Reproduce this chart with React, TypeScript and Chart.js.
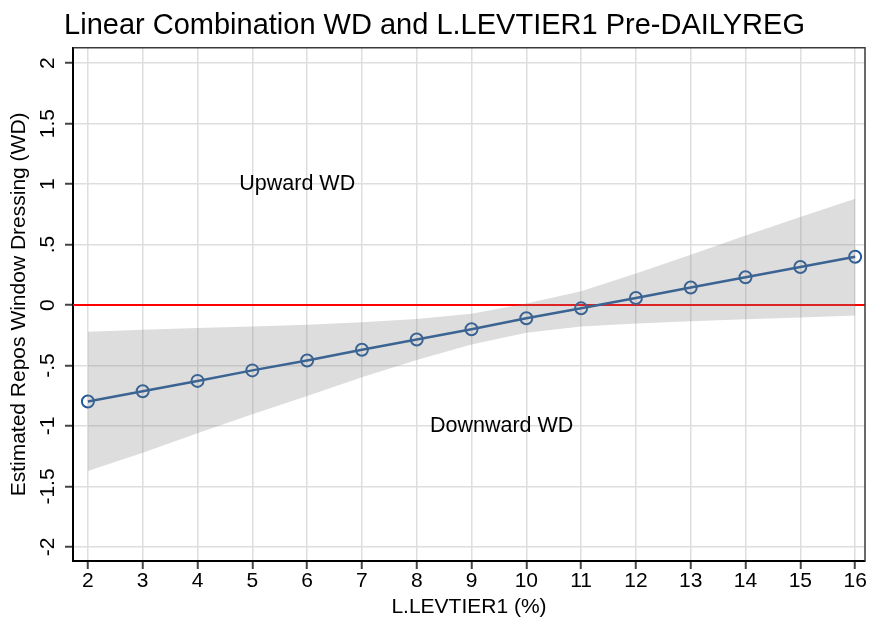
import React, { useEffect, useRef } from "react";
import { Chart, registerables } from "chart.js";

Chart.register(...registerables);

// ---- data ----
const levTier1 = [2, 3, 4, 5, 6, 7, 8, 9, 10, 11, 12, 13, 14, 15, 16];
const estimate = [-0.797, -0.712, -0.627, -0.54, -0.458, -0.37, -0.285, -0.2, -0.109, -0.027, 0.058, 0.145, 0.23, 0.315, 0.4];
const ciUpper = [-0.22, -0.205, -0.19, -0.177, -0.163, -0.142, -0.115, -0.072, 0.012, 0.115, 0.262, 0.415, 0.575, 0.728, 0.88];
const ciLower = [-1.372, -1.222, -1.06, -0.902, -0.752, -0.596, -0.455, -0.327, -0.229, -0.178, -0.152, -0.133, -0.118, -0.103, -0.086];

const xTickValues = [2, 3, 4, 5, 6, 7, 8, 9, 10, 11, 12, 13, 14, 15, 16];
const yTickValues = [-2, -1.5, -1, -0.5, 0, 0.5, 1, 1.5, 2];
const yTickLabels = ["-2", "-1.5", "-1", "-.5", "0", ".5", "1", "1.5", "2"];

const xAxisMin = 1.728;
const xAxisMax = 16.18;
const yAxisMin = -2.116;
const yAxisMax = 2.127;

const referenceLineY = 0;
const annotationLabels = ["Upward WD", "Downward WD"];
const annotationX = [5.82, 9.55];
const annotationY = [1, -1];

const chartTitle = "Linear Combination WD and L.LEVTIER1 Pre-DAILYREG";
const xTitle = "L.LEVTIER1 (%)";
const yTitle = "Estimated Repos Window Dressing (WD)";

const FONT = "'Liberation Sans', Arial, Helvetica, sans-serif";
const BLUE = "#22599a";

const decorPlugin = {
  id: "decor",
  beforeDatasetsDraw(chart: any) {
    const { ctx, chartArea: a, scales } = chart;
    const py = scales.y.getPixelForValue(referenceLineY);
    ctx.save();
    ctx.strokeStyle = "#ff0000";
    ctx.lineWidth = 2;
    ctx.beginPath();
    ctx.moveTo(a.left, py);
    ctx.lineTo(a.right, py);
    ctx.stroke();
    ctx.restore();
  },
  afterDatasetsDraw(chart: any) {
    const { ctx, chartArea: a, scales } = chart;
    ctx.save();
    ctx.strokeStyle = "#3a3a3a";
    ctx.lineWidth = 1.5;
    ctx.beginPath();
    ctx.moveTo(a.left, a.top);
    ctx.lineTo(a.right, a.top);
    ctx.lineTo(a.right, a.bottom);
    ctx.stroke();
    ctx.fillStyle = "#000";
    ctx.font = `21.5px ${FONT}`;
    ctx.textAlign = "center";
    ctx.textBaseline = "middle";
    annotationLabels.forEach((t, i) => {
      ctx.fillText(t, scales.x.getPixelForValue(annotationX[i]), scales.y.getPixelForValue(annotationY[i]));
    });
    ctx.restore();
  },
};

export default function App() {
  const ref = useRef<HTMLCanvasElement | null>(null);
  useEffect(() => {
    if (!ref.current) return;
    const toXY = (ys: number[]) => levTier1.map((x, i) => ({ x, y: ys[i] }));
    const chart = new Chart(ref.current, {
      type: "line",
      data: {
        datasets: [
          {
            data: toXY(ciUpper),
            borderWidth: 0,
            pointRadius: 0,
            backgroundColor: "rgba(128,128,128,0.27)",
            fill: "+1",
            tension: 0,
          },
          {
            data: toXY(ciLower),
            borderWidth: 0,
            pointRadius: 0,
            fill: false,
            tension: 0,
          },
          {
            data: toXY(estimate),
            borderColor: BLUE,
            borderWidth: 2.5,
            pointRadius: 6,
            pointBorderWidth: 2,
            pointBorderColor: BLUE,
            pointBackgroundColor: "rgba(0,0,0,0)",
            fill: false,
            tension: 0,
          },
        ],
      },
      options: {
        animation: false,
        responsive: false,
        devicePixelRatio: 1,
        layout: { padding: { left: 0, right: 4, top: 0, bottom: 0 } },
        plugins: {
          legend: { display: false },
          tooltip: { enabled: false },
          title: {
            display: true,
            text: chartTitle,
            color: "#000",
            font: { family: FONT, size: 29, weight: "normal" },
            padding: { top: 9, bottom: 4 },
          },
        },
        scales: {
          x: {
            type: "linear",
            min: xAxisMin,
            max: xAxisMax,
            afterBuildTicks: (axis: any) => {
              axis.ticks = xTickValues.map((v) => ({ value: v }));
            },
            afterFit: (axis: any) => {
              axis.height = 61;
            },
            ticks: {
              color: "#000",
              font: { family: FONT, size: 21 },
              padding: 0,
              maxRotation: 0,
              minRotation: 0,
              callback: (v: any) => String(v),
            },
            grid: {
              color: "#dedede",
              lineWidth: 1.5,
              tickColor: "#444",
              tickLength: 8,
              tickWidth: 2,
            },
            border: { color: "#000", width: 2 },
            title: {
              display: true,
              text: xTitle,
              color: "#000",
              font: { family: FONT, size: 21 },
              padding: { top: 0, bottom: 2 },
            },
          },
          y: {
            type: "linear",
            min: yAxisMin,
            max: yAxisMax,
            afterBuildTicks: (axis: any) => {
              axis.ticks = yTickValues.map((v) => ({ value: v }));
            },
            afterFit: (axis: any) => {
              axis.width = 73;
            },
            ticks: {
              color: "#000",
              font: { family: FONT, size: 21 },
              padding: -1.5,
              minRotation: 90,
              maxRotation: 90,
              crossAlign: "center",
              callback: (_v: any, i: number) => yTickLabels[i],
            },
            grid: {
              color: "#dedede",
              lineWidth: 1.5,
              tickColor: "#444",
              tickLength: 8,
              tickWidth: 2,
            },
            border: { color: "#000", width: 2 },
            title: {
              display: true,
              text: yTitle,
              color: "#000",
              font: { family: FONT, size: 21 },
              padding: { top: 7, bottom: 0 },
            },
          },
        },
      } as any,
      plugins: [decorPlugin],
    });
    return () => chart.destroy();
  }, []);
  return (
    <div style={{ position: "absolute", left: 0, top: 0, width: 873, height: 622, background: "#fff" }}>
      <canvas ref={ref} width={873} height={622} style={{ display: "block" }} />
    </div>
  );
}
